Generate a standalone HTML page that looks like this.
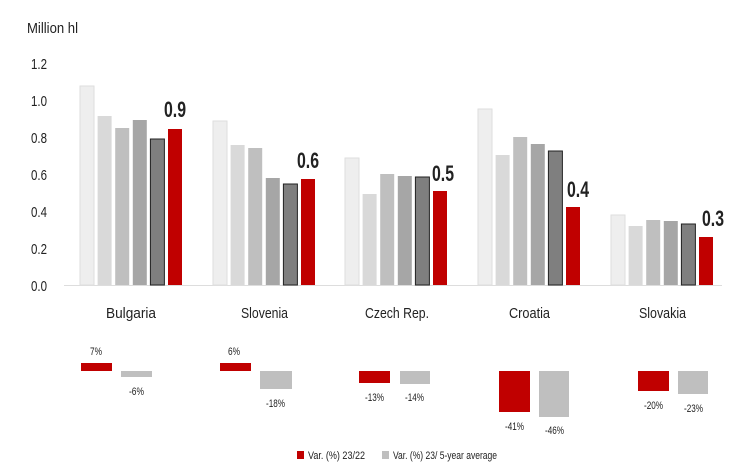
<!DOCTYPE html>
<html><head><meta charset="utf-8"><style>
body{margin:0;background:#fff}
svg{display:block}
text{font-family:"Liberation Sans Narrow","Liberation Sans",sans-serif;fill:#222}
</style></head><body>
<svg width="730" height="469" viewBox="0 0 730 469">
<text x="27" y="33" font-size="15" textLength="51" lengthAdjust="spacingAndGlyphs">Million hl</text>
<g font-size="15">
<text x="31" y="69" textLength="16" lengthAdjust="spacingAndGlyphs">1.2</text>
<text x="31" y="106" textLength="16" lengthAdjust="spacingAndGlyphs">1.0</text>
<text x="31" y="143" textLength="16" lengthAdjust="spacingAndGlyphs">0.8</text>
<text x="31" y="180" textLength="16" lengthAdjust="spacingAndGlyphs">0.6</text>
<text x="31" y="217" textLength="16" lengthAdjust="spacingAndGlyphs">0.4</text>
<text x="31" y="254" textLength="16" lengthAdjust="spacingAndGlyphs">0.2</text>
<text x="31" y="291" textLength="16" lengthAdjust="spacingAndGlyphs">0.0</text>
</g>
<line x1="64" y1="285.5" x2="722" y2="285.5" stroke="#ddd" stroke-width="1"/>
<g>
<rect x="80" y="86" width="14" height="199" fill="#eeeeee" stroke="#dedede"/>
<rect x="97.6" y="116" width="14" height="169" fill="#d9d9d9"/>
<rect x="115.2" y="128" width="14" height="157" fill="#bfbfbf"/>
<rect x="132.8" y="120" width="14" height="165" fill="#a6a6a6"/>
<rect x="150.4" y="139" width="14" height="146" fill="#7f7f7f" stroke="#222"/>
<rect x="168" y="129" width="14" height="156" fill="#c00000"/>
<rect x="213" y="121" width="14" height="164" fill="#eeeeee" stroke="#dedede"/>
<rect x="230.6" y="145" width="14" height="140" fill="#d9d9d9"/>
<rect x="248.2" y="148" width="14" height="137" fill="#bfbfbf"/>
<rect x="265.8" y="178" width="14" height="107" fill="#a6a6a6"/>
<rect x="283.4" y="184" width="14" height="101" fill="#7f7f7f" stroke="#222"/>
<rect x="301" y="179" width="14" height="106" fill="#c00000"/>
<rect x="345" y="158" width="14" height="127" fill="#eeeeee" stroke="#dedede"/>
<rect x="362.6" y="194" width="14" height="91" fill="#d9d9d9"/>
<rect x="380.2" y="174" width="14" height="111" fill="#bfbfbf"/>
<rect x="397.8" y="176" width="14" height="109" fill="#a6a6a6"/>
<rect x="415.4" y="177" width="14" height="108" fill="#7f7f7f" stroke="#222"/>
<rect x="433" y="191" width="14" height="94" fill="#c00000"/>
<rect x="478" y="109" width="14" height="176" fill="#eeeeee" stroke="#dedede"/>
<rect x="495.6" y="155" width="14" height="130" fill="#d9d9d9"/>
<rect x="513.2" y="137" width="14" height="148" fill="#bfbfbf"/>
<rect x="530.8" y="144" width="14" height="141" fill="#a6a6a6"/>
<rect x="548.4" y="151" width="14" height="134" fill="#7f7f7f" stroke="#222"/>
<rect x="566" y="207" width="14" height="78" fill="#c00000"/>
<rect x="611" y="215" width="14" height="70" fill="#eeeeee" stroke="#dedede"/>
<rect x="628.6" y="226" width="14" height="59" fill="#d9d9d9"/>
<rect x="646.2" y="220" width="14" height="65" fill="#bfbfbf"/>
<rect x="663.8" y="221" width="14" height="64" fill="#a6a6a6"/>
<rect x="681.4" y="224" width="14" height="61" fill="#7f7f7f" stroke="#222"/>
<rect x="699" y="237" width="14" height="48" fill="#c00000"/>
</g>
<g font-size="22" font-weight="bold" fill="#111">
<text x="164" y="117" textLength="22" lengthAdjust="spacingAndGlyphs">0.9</text>
<text x="297" y="168" textLength="22" lengthAdjust="spacingAndGlyphs">0.6</text>
<text x="432" y="181" textLength="22" lengthAdjust="spacingAndGlyphs">0.5</text>
<text x="567" y="197" textLength="22" lengthAdjust="spacingAndGlyphs">0.4</text>
<text x="702" y="226" textLength="22" lengthAdjust="spacingAndGlyphs">0.3</text>
</g>
<g font-size="15">
<text x="106" y="318" textLength="50" lengthAdjust="spacingAndGlyphs">Bulgaria</text>
<text x="241" y="318" textLength="47" lengthAdjust="spacingAndGlyphs">Slovenia</text>
<text x="365" y="318" textLength="64" lengthAdjust="spacingAndGlyphs">Czech Rep.</text>
<text x="509" y="318" textLength="41" lengthAdjust="spacingAndGlyphs">Croatia</text>
<text x="639" y="318" textLength="47" lengthAdjust="spacingAndGlyphs">Slovakia</text>
</g>
<rect x="81" y="363" width="31" height="8" fill="#c00000"/>
<rect x="121" y="371" width="31" height="6" fill="#bfbfbf"/>
<rect x="220" y="363" width="31" height="8" fill="#c00000"/>
<rect x="260" y="371" width="32" height="18" fill="#bfbfbf"/>
<rect x="359" y="371" width="31" height="12" fill="#c00000"/>
<rect x="400" y="371" width="30" height="13" fill="#bfbfbf"/>
<rect x="499" y="371" width="31" height="41" fill="#c00000"/>
<rect x="539" y="371" width="30" height="46" fill="#bfbfbf"/>
<rect x="638" y="371" width="31" height="20" fill="#c00000"/>
<rect x="678" y="371" width="30" height="23" fill="#bfbfbf"/>
<g font-size="11" fill="#333">
<text x="90" y="355" textLength="12" lengthAdjust="spacingAndGlyphs">7%</text>
<text x="129" y="395" textLength="15" lengthAdjust="spacingAndGlyphs">-6%</text>
<text x="228" y="355" textLength="12" lengthAdjust="spacingAndGlyphs">6%</text>
<text x="266" y="407" textLength="19" lengthAdjust="spacingAndGlyphs">-18%</text>
<text x="365" y="401" textLength="19" lengthAdjust="spacingAndGlyphs">-13%</text>
<text x="405" y="401" textLength="19" lengthAdjust="spacingAndGlyphs">-14%</text>
<text x="505" y="430" textLength="19" lengthAdjust="spacingAndGlyphs">-41%</text>
<text x="545" y="434" textLength="19" lengthAdjust="spacingAndGlyphs">-46%</text>
<text x="644" y="409" textLength="19" lengthAdjust="spacingAndGlyphs">-20%</text>
<text x="684" y="412" textLength="19" lengthAdjust="spacingAndGlyphs">-23%</text>
</g>
<rect x="297" y="451" width="7" height="8" fill="#c00000"/>
<text x="308" y="459" font-size="11" textLength="57" lengthAdjust="spacingAndGlyphs">Var. (%) 23/22</text>
<rect x="382" y="451" width="7" height="8" fill="#bfbfbf"/>
<text x="393" y="459" font-size="11" textLength="104" lengthAdjust="spacingAndGlyphs">Var. (%) 23/ 5-year average</text>
</svg>
</body></html>
